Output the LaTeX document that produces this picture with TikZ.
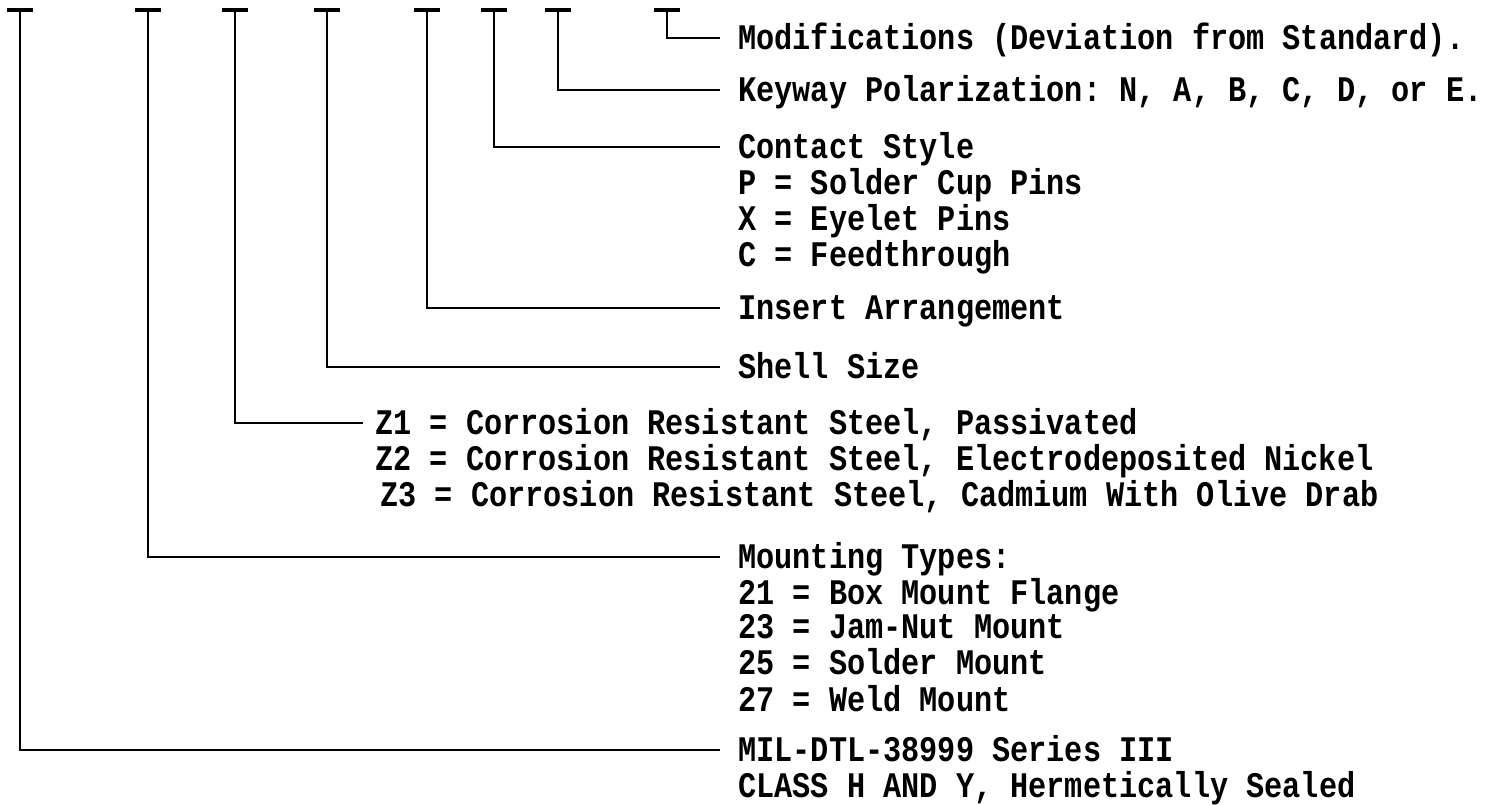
\documentclass[tikz,border=0pt]{standalone}
\usepackage{fontspec}
\setmonofont[FakeStretch=0.84]{Liberation Mono}
\usetikzlibrary{positioning}
\newcommand\lblfont{\ttfamily\bfseries\fontsize{18}{17}\selectfont}
\newcommand\lines[1]{\begin{tabular}[t]{@{}l@{}}#1\end{tabular}}
\tikzset{
  tick/.style={line width=1.8pt},
  lead/.style={line width=1pt},
  lbl/.style={anchor=base west,inner sep=0pt,font=\lblfont},
}

\begin{document}
\begin{tikzpicture}[x=0.5pt, y=-0.5pt]
\useasboundingbox (0,0) rectangle (1489,804);

% part number positions along the top
\coordinate (tSer) at (20,10);
\coordinate (tMnt) at (148,10);
\coordinate (tMat) at (235,10);
\coordinate (tShl) at (327,10);
\coordinate (tIns) at (427,10);
\coordinate (tCon) at (494,10);
\coordinate (tKey) at (558,10);
\coordinate (tMod) at (667,10);
\foreach \t in {tSer,tMnt,tMat,tShl,tIns,tCon,tKey,tMod}
  \draw[tick] (\t) ++(-13,0) -- ++(26,0);

% ends of the leaders
\coordinate (eMod) at (720,38);
\coordinate (eKey) at (720,90);
\coordinate (eCon) at (720,147);
\coordinate (eIns) at (720,308);
\coordinate (eShl) at (720,367);
\coordinate (eMat) at (363,423);
\coordinate (eMnt) at (720,557);
\coordinate (eSer) at (720,750);

\node[lbl] (lMod) at (738,49) {Modifications (Deviation from Standard).};
\node[lbl] (lKey) at (738,101) {Keyway Polarization: N, A, B, C, D, or E.};
\node[lbl] (lCon) at (738,158) {\lines{Contact Style\\P = Solder Cup Pins\\X = Eyelet Pins\\C = Feedthrough}};
\node[lbl] (lIns) at (738,319) {Insert Arrangement};
\node[lbl] (lShl) at (738,378) {Shell Size};
\node[lbl] (lMat) at (375,434) {\lines{Z1 = Corrosion Resistant Steel, Passivated\\
  Z2 = Corrosion Resistant Steel, Electrodeposited Nickel\\
  \hspace*{2.5pt}Z3 = Corrosion Resistant Steel, Cadmium With Olive Drab}};
\node[lbl] (lMnt) at (738,568) {\lines{Mounting Types:\\21 = Box Mount Flange\\23 = Jam-Nut Mount\\25 = Solder Mount\\27 = Weld Mount}};
\node[lbl] (lSer) at (738,761) {\lines{MIL-DTL-38999 Series III\\CLASS H AND Y, Hermetically Sealed}};

\foreach \k in {Mod,Key,Con,Ins,Shl,Mat,Mnt,Ser}
  \draw[lead] (t\k) |- (e\k);
\end{tikzpicture}
\end{document}
